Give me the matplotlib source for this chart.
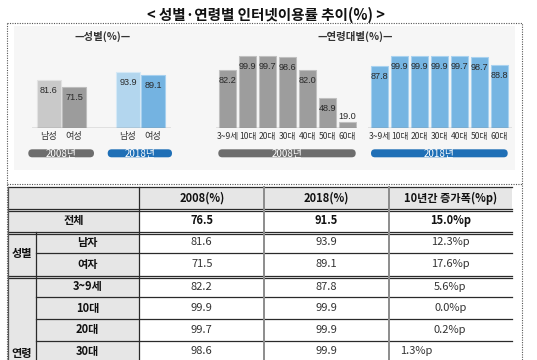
import matplotlib
matplotlib.use('Agg')
import matplotlib.pyplot as plt
from matplotlib.patches import Rectangle, FancyBboxPatch
import numpy as np

plt.rcParams['font.family'] = ['Noto Sans CJK KR', 'DejaVu Sans']

# ---------------- data ----------------
title = '< 성별·연령별 인터넷이용률 추이(%) >'
sex_title = '—성별(%)—'
age_title = '—연령대별(%)—'
years = ['2008년', '2018년']
sex_labels = ['남성', '여성']
sex_2008 = [81.6, 71.5]
sex_2018 = [93.9, 89.1]
age_labels = ['3~9세', '10대', '20대', '30대', '40대', '50대', '60대']
age_2008 = [82.2, 99.9, 99.7, 98.6, 82.0, 48.9, 19.0]
age_2018 = [87.8, 99.9, 99.9, 99.9, 99.7, 98.7, 88.8]

table_header = ['2008(%)', '2018(%)', '10년간 증가폭(%p)']
table_total_label = '전체'
table_total = ['76.5', '91.5', '15.0%p']
table_groups = ['성별', '연령']
table_rows = ['남자', '여자', '3~9세', '10대', '20대', '30대']
table_2008 = ['81.6', '71.5', '82.2', '99.9', '99.7', '98.6']
table_2018 = ['93.9', '89.1', '87.8', '99.9', '99.9', '99.9']
table_diff = ['12.3%p', '17.6%p', '5.6%p', '0.0%p', '0.2%p', '1.3%p']

# ---------------- figure ----------------
W, H = 537, 360
fig = plt.figure(figsize=(W / 100, H / 100), dpi=100)
fig.patch.set_facecolor('white')
bg = fig.add_axes([0, 0, 1, 1], zorder=0)
bg.set_xlim(0, W)
bg.set_ylim(H, 0)
bg.axis('off')


def px_axes(x0, x1, y0, y1):
    a = fig.add_axes([x0 / W, 1 - y1 / H, (x1 - x0) / W, (y1 - y0) / H], zorder=2)
    a.patch.set_alpha(0)
    for s in a.spines.values():
        s.set_visible(False)
    a.set_yticks([])
    return a


# chart background + dotted frames
bg.add_patch(Rectangle((13.7, 25.7), 501.3, 143.8, fc='#f6f6f6', ec='none'))
dot = dict(color='#555555', lw=0.8, ls=(0, (1, 1.2)))
bg.plot([7.3, 522, 522], [22.7, 22.7, 360], **dot)
bg.plot([7.3, 7.3], [22.7, 360], **dot)
bg.plot([7.3, 522], [184, 184], **dot)

# titles
bg.text(266, 15, title, ha='center', va='center', fontsize=10.5, fontweight='bold', color='#111111')
bg.text(103, 36.5, sex_title, ha='center', va='center', fontsize=7.5, fontweight='bold', color='#333333')
bg.text(355, 36.5, age_title, ha='center', va='center', fontsize=7.5, fontweight='bold', color='#333333')

num_font = dict(family=['Liberation Sans', 'DejaVu Sans'], fontsize=6.6, color='#2a2a2a')


def bar_labels(ax, xs, vals):
    for x, v in zip(xs, vals):
        if v < 30:
            ax.annotate(f'{v:.1f}', (x, v), xytext=(0, 1), textcoords='offset points',
                        ha='center', va='bottom', **num_font)
        else:
            ax.annotate(f'{v:.1f}', (x, v), xytext=(0, -7.5), textcoords='offset points',
                        ha='center', va='center', **num_font)


# ---- sex chart ----
axs = px_axes(31.7, 171.0, 45, 128.3)
sb = 10.0
axs.set_ylim(sb, sb + (128.3 - 45) / 0.67)
step = 25.2
sx = np.array([0, 1, 3.14, 4.14])
axs.set_xlim((31.7 - 48.8) / step, (171.0 - 48.8) / step)
sex_vals = sex_2008 + sex_2018
sex_cols = ['#c9c9c9', '#9c9c9c', '#b3d6ee', '#74b3e1']
sex_edges = ['#e2e2e2', '#bdbdbd', '#d6e9f6', '#a6d0ef']
axs.bar(sx, np.array(sex_vals) - sb, bottom=sb, width=0.97, color=sex_cols,
        edgecolor=sex_edges, linewidth=0.8)
axs.axhline(sb, color='#8a8a8a', lw=1.0)
bar_labels(axs, sx, sex_vals)
axs.set_xticks(sx, sex_labels * 2)
axs.tick_params(axis='x', length=0, pad=3, labelsize=6.6, labelcolor='#333333')

# ---- age charts ----
ab = 11.7
ascale = 0.823


def age_chart(x0, x1, c0, vals, color, edge):
    ax = px_axes(x0, x1, 45, 128.3)
    ax.set_ylim(ab, ab + (128.3 - 45) / ascale)
    st = 20.0
    ax.set_xlim((x0 - c0) / st, (x1 - c0) / st)
    xs = np.arange(len(vals))
    ax.bar(xs, np.array(vals) - ab, bottom=ab, width=0.85, color=color,
           edgecolor=edge, linewidth=0.8)
    ax.axhline(ab, color='#8a8a8a', lw=1.0)
    bar_labels(ax, xs, vals)
    ax.set_xticks(xs, age_labels)
    ax.tick_params(axis='x', length=0, pad=3, labelsize=6.2, labelcolor='#333333')
    return ax


age_chart(216.0, 356.7, 227.5, age_2008, '#9d9d9d', '#c0c0c0')
age_chart(368.3, 511.7, 379.5, age_2018, '#76b5e2', '#a9d2f0')

# year pills
pills = [(28.3, 94.0, '#6d6d6d', years[0]), (107.7, 172.0, '#1f6fb6', years[1]),
         (218.3, 355.7, '#6d6d6d', years[0]), (371.0, 507.7, '#1f6fb6', years[1])]
for x0, x1, c, t in pills:
    bg.add_patch(FancyBboxPatch((x0, 149.3), x1 - x0, 8.0,
                                boxstyle='round,pad=0,rounding_size=4', fc=c, ec='none'))
    bg.text((x0 + x1) / 2, 153.5, t, ha='center', va='center', fontsize=7, color='white')

# ---------------- table ----------------
xL, xS, xC1, xC2, xC3, xR = 8.3, 36.0, 139.3, 264.3, 388.7, 511.7
row_edges = [187.3, 209.0, 231.7, 252.7, 276.0, 297.3, 319.3, 340.7, 362.0]
gray = '#e6e6e6'
bg.add_patch(Rectangle((xL, row_edges[0]), xR - xL, row_edges[1] - row_edges[0], fc=gray, ec='none'))
bg.add_patch(Rectangle((xL, row_edges[1]), xC1 - xL, H - row_edges[1], fc=gray, ec='none'))

# horizontal lines
doubles = {1, 2, 4}
for i, y in enumerate(row_edges[:-1]):
    x_start = xL if i in (0, 1, 2, 4) else xS
    bg.plot([x_start, xR], [y, y], color='#2a2a2a', lw=0.9)
    if i in doubles:
        bg.plot([x_start, xR], [y + 2.2, y + 2.2], color='#2a2a2a', lw=0.9)
# vertical lines
bg.plot([xL, xL], [row_edges[0], H], color='#555555', lw=0.9)
bg.plot([xS, xS], [row_edges[2], H], color='#2a2a2a', lw=0.9)
bg.plot([xC1, xC1], [row_edges[0], H], color='#2a2a2a', lw=0.9)
for x in (xC2, xC3):
    bg.plot([x, x], [row_edges[0], H], color='#8c8c8c', lw=1.4)

centers = [(row_edges[i] + row_edges[i + 1]) / 2 for i in range(len(row_edges) - 1)]
col_x = [(xC1 + xC2) / 2, (xC2 + xC3) / 2, (xC3 + xR) / 2]
tfs = 8
for x, t in zip(col_x, table_header):
    bg.text(x, centers[0], t, ha='center', va='center', fontsize=tfs, fontweight='bold', color='#111111')
bg.text((xL + xC1) / 2, centers[1], table_total_label, ha='center', va='center', fontsize=tfs,
        fontweight='bold', color='#111111')
for x, t in zip(col_x, table_total):
    bg.text(x, centers[1], t, ha='center', va='center', fontsize=tfs, fontweight='bold', color='#111111')

bg.text((xL + xS) / 2, (row_edges[2] + row_edges[4]) / 2, table_groups[0], ha='center', va='center',
        fontsize=tfs, fontweight='bold', color='#111111')
bg.text((xL + xS) / 2, 354, table_groups[1], ha='center', va='center',
        fontsize=tfs, fontweight='bold', color='#111111')

for i, (lab, a, b, d) in enumerate(zip(table_rows, table_2008, table_2018, table_diff)):
    y = centers[i + 2]
    bg.text((xS + xC1) / 2, y, lab, ha='center', va='center', fontsize=tfs, fontweight='bold', color='#111111')
    bg.text(col_x[0], y, a, ha='center', va='center', fontsize=tfs, color='#333333')
    bg.text(col_x[1], y, b, ha='center', va='center', fontsize=tfs, color='#333333')
    if i == len(table_rows) - 1:
        bg.text(400.5, y, d, ha='left', va='center', fontsize=tfs, color='#333333')
    else:
        bg.text(col_x[2], y, d, ha='center', va='center', fontsize=tfs, color='#333333')

fig.savefig('out.png', dpi=100, facecolor='white')
